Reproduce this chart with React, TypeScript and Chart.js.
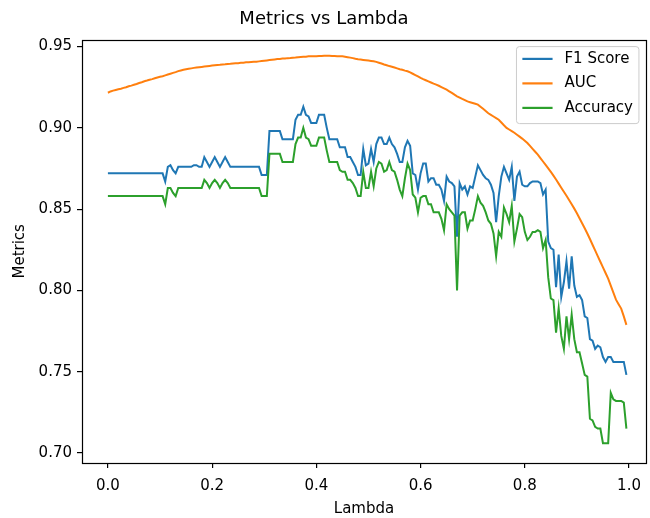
import React, { useEffect, useRef } from "react";
import { Chart, registerables } from "chart.js";

Chart.register(...registerables);

// lambda grid: 0.000, 0.005, ..., 0.995
const lambdas: number[] = Array.from({ length: 200 }, (_, i) => (i * 5) / 1000);

const f1Score: number[] = [
  0.872, 0.872, 0.872, 0.872, 0.872, 0.872, 0.872, 0.872, 0.872, 0.872,
  0.872, 0.872, 0.872, 0.872, 0.872, 0.872, 0.872, 0.872, 0.872, 0.872,
  0.872, 0.872, 0.867, 0.876, 0.877, 0.874, 0.872, 0.876, 0.876, 0.876,
  0.876, 0.876, 0.876, 0.877, 0.877, 0.876, 0.876, 0.882, 0.879, 0.876,
  0.879, 0.882, 0.879, 0.876, 0.879, 0.882, 0.879, 0.876, 0.876, 0.876,
  0.876, 0.876, 0.876, 0.876, 0.876, 0.876, 0.876, 0.876, 0.876, 0.871,
  0.871, 0.871, 0.898, 0.898, 0.898, 0.898, 0.898, 0.893, 0.893, 0.893,
  0.893, 0.893, 0.905, 0.908, 0.908, 0.913, 0.908, 0.907, 0.903, 0.903,
  0.903, 0.908, 0.908, 0.908, 0.900, 0.893, 0.893, 0.893, 0.893, 0.888,
  0.888, 0.888, 0.882, 0.882, 0.879, 0.876, 0.871, 0.871, 0.887, 0.877,
  0.878, 0.887, 0.879, 0.890, 0.894, 0.894, 0.890, 0.890, 0.894, 0.890,
  0.888, 0.884, 0.879, 0.879, 0.888, 0.892, 0.889, 0.872, 0.871, 0.862,
  0.872, 0.878, 0.878, 0.867, 0.869, 0.869, 0.865, 0.865, 0.862, 0.855,
  0.870, 0.867, 0.866, 0.864, 0.833, 0.866, 0.862, 0.864, 0.859, 0.864,
  0.863, 0.870, 0.877, 0.874, 0.871, 0.869, 0.868, 0.865, 0.860, 0.842,
  0.858, 0.870, 0.876, 0.872, 0.868, 0.876, 0.855, 0.870, 0.873, 0.865,
  0.864, 0.864, 0.866, 0.867, 0.867, 0.867, 0.866, 0.859, 0.862, 0.830,
  0.826, 0.825, 0.802, 0.822, 0.796, 0.805, 0.818, 0.801, 0.821, 0.803,
  0.796, 0.797, 0.794, 0.784, 0.783, 0.770, 0.769, 0.764, 0.766, 0.765,
  0.759, 0.756, 0.759, 0.759, 0.756, 0.756, 0.756, 0.756, 0.756, 0.748,
];

const auc: number[] = [
  0.9216, 0.9224, 0.9229, 0.9233, 0.9237, 0.9241, 0.9246, 0.925, 0.9256, 0.926,
  0.9265, 0.927, 0.9276, 0.9281, 0.9287, 0.9291, 0.9296, 0.93, 0.9305, 0.931,
  0.9314, 0.9318, 0.9323, 0.9328, 0.9333, 0.9338, 0.9343, 0.9349, 0.9353, 0.9357,
  0.936, 0.9363, 0.9366, 0.9369, 0.9371, 0.9373, 0.9375, 0.9377, 0.9379, 0.9381,
  0.9383, 0.9385, 0.9387, 0.9388, 0.939, 0.9391, 0.9393, 0.9394, 0.9396, 0.9397,
  0.9398, 0.94, 0.9401, 0.9403, 0.9404, 0.9405, 0.9406, 0.9407, 0.9409, 0.9411,
  0.9413, 0.9415, 0.9417, 0.9419, 0.9421, 0.9423, 0.9424, 0.9426, 0.9427, 0.9429,
  0.943, 0.9432, 0.9433, 0.9435, 0.9436, 0.9437, 0.9438, 0.944, 0.944, 0.9441,
  0.9441, 0.9442, 0.9442, 0.9443, 0.9443, 0.9443, 0.9442, 0.9442, 0.9441, 0.9441,
  0.944, 0.9438, 0.9435, 0.9432, 0.9429, 0.9425, 0.9422, 0.942, 0.9418, 0.9416,
  0.9414, 0.9412, 0.941, 0.9406, 0.9401, 0.9396, 0.939, 0.9385, 0.938, 0.9376,
  0.9371, 0.9366, 0.9361, 0.9357, 0.9352, 0.9348, 0.9341, 0.9333, 0.9325, 0.9317,
  0.9308, 0.93, 0.9293, 0.9286, 0.9279, 0.9272, 0.9266, 0.9259, 0.9251, 0.9243,
  0.9235, 0.9225, 0.9215, 0.9204, 0.9194, 0.9186, 0.9178, 0.9171, 0.9163, 0.9158,
  0.9153, 0.9148, 0.9143, 0.913, 0.9117, 0.9104, 0.909, 0.908, 0.907, 0.906,
  0.905, 0.9033, 0.9016, 0.9, 0.899, 0.898, 0.897, 0.8958, 0.8946, 0.8934,
  0.8921, 0.8907, 0.8889, 0.8871, 0.8853, 0.8835, 0.8814, 0.8793, 0.8772, 0.8751,
  0.8729, 0.8706, 0.8682, 0.8657, 0.8632, 0.8607, 0.8582, 0.8556, 0.853, 0.8503,
  0.8475, 0.8444, 0.8413, 0.8382, 0.835, 0.8316, 0.8281, 0.8246, 0.8211, 0.8176,
  0.8142, 0.8107, 0.8072, 0.8029, 0.7986, 0.7943, 0.7915, 0.7888, 0.784, 0.7788,
];

const accuracy: number[] = [
  0.858, 0.858, 0.858, 0.858, 0.858, 0.858, 0.858, 0.858, 0.858, 0.858,
  0.858, 0.858, 0.858, 0.858, 0.858, 0.858, 0.858, 0.858, 0.858, 0.858,
  0.858, 0.858, 0.853, 0.863, 0.863, 0.860, 0.858, 0.863, 0.863, 0.863,
  0.863, 0.863, 0.863, 0.863, 0.863, 0.863, 0.863, 0.868, 0.866, 0.863,
  0.866, 0.868, 0.866, 0.863, 0.866, 0.868, 0.866, 0.863, 0.863, 0.863,
  0.863, 0.863, 0.863, 0.863, 0.863, 0.863, 0.863, 0.863, 0.863, 0.858,
  0.858, 0.858, 0.884, 0.884, 0.884, 0.884, 0.884, 0.879, 0.879, 0.879,
  0.879, 0.879, 0.890, 0.894, 0.894, 0.900, 0.894, 0.893, 0.889, 0.889,
  0.889, 0.894, 0.894, 0.894, 0.886, 0.879, 0.879, 0.879, 0.879, 0.874,
  0.873, 0.873, 0.868, 0.868, 0.866, 0.863, 0.858, 0.858, 0.873, 0.863,
  0.863, 0.873, 0.864, 0.875, 0.879, 0.878, 0.873, 0.874, 0.879, 0.874,
  0.873, 0.868, 0.862, 0.858, 0.869, 0.878, 0.874, 0.859, 0.857, 0.848,
  0.857, 0.858, 0.858, 0.853, 0.853, 0.848, 0.848, 0.848, 0.844, 0.837,
  0.853, 0.850, 0.848, 0.846, 0.800, 0.846, 0.848, 0.848, 0.838, 0.843,
  0.843, 0.850, 0.858, 0.854, 0.852, 0.848, 0.843, 0.841, 0.835, 0.821,
  0.836, 0.833, 0.851, 0.847, 0.842, 0.852, 0.830, 0.838, 0.847, 0.845,
  0.836, 0.831, 0.833, 0.836, 0.836, 0.837, 0.836, 0.826, 0.831, 0.808,
  0.795, 0.794, 0.774, 0.789, 0.772, 0.764, 0.784, 0.770, 0.785, 0.770,
  0.762, 0.762, 0.755, 0.748, 0.747, 0.721, 0.720, 0.716, 0.715, 0.715,
  0.706, 0.706, 0.706, 0.737, 0.733, 0.732, 0.732, 0.732, 0.731, 0.715,
];

const xTicks: number[] = [0.0, 0.2, 0.4, 0.6, 0.8, 1.0];
const yTicks: number[] = [0.7, 0.75, 0.8, 0.85, 0.9, 0.95];
const seriesNames: string[] = ["F1 Score", "AUC", "Accuracy"];
const seriesColors: string[] = ["#1f77b4", "#ff7f0e", "#2ca02c"];

const FONT = "'DejaVu Sans', 'Liberation Sans', sans-serif";

const framePlugin = {
  id: "mplFrame",
  afterDatasetsDraw(chart: any) {
    const { ctx, chartArea } = chart;
    ctx.save();
    ctx.strokeStyle = "#000";
    ctx.lineWidth = 1.2;
    ctx.strokeRect(
      Math.round(chartArea.left) + 0.5,
      Math.round(chartArea.top) + 0.5,
      Math.round(chartArea.right - chartArea.left),
      Math.round(chartArea.bottom - chartArea.top)
    );
    ctx.restore();
  },
};

const legendPlugin = {
  id: "mplLegend",
  afterDraw(chart: any) {
    const { ctx, chartArea } = chart;
    ctx.save();
    ctx.font = `15px ${FONT}`;
    const names: string[] = chart.data.datasets.map((d: any) => d.label);
    const colors: string[] = chart.data.datasets.map((d: any) => d.borderColor);
    const textW = Math.max(...names.map((n) => ctx.measureText(n).width));
    const pad = 6;
    const handle = 30;
    const textPad = 12;
    const width = pad + handle + textPad + textW + pad;
    const height = 77;
    const right = chartArea.right - 7;
    const top = chartArea.top + 7;
    const left = right - width;
    const r = 3;
    ctx.beginPath();
    ctx.moveTo(left + r, top);
    ctx.lineTo(right - r, top);
    ctx.arcTo(right, top, right, top + r, r);
    ctx.lineTo(right, top + height - r);
    ctx.arcTo(right, top + height, right - r, top + height, r);
    ctx.lineTo(left + r, top + height);
    ctx.arcTo(left, top + height, left, top + height - r, r);
    ctx.lineTo(left, top + r);
    ctx.arcTo(left, top, left + r, top, r);
    ctx.closePath();
    ctx.fillStyle = "rgba(255,255,255,0.8)";
    ctx.fill();
    ctx.strokeStyle = "#cccccc";
    ctx.lineWidth = 1;
    ctx.stroke();
    names.forEach((name, i) => {
      const y = top + 12.3 + i * 24.5;
      ctx.beginPath();
      ctx.strokeStyle = colors[i];
      ctx.lineWidth = 2.2;
      ctx.lineCap = "square";
      ctx.moveTo(left + pad + 1, y);
      ctx.lineTo(left + pad + handle - 1, y);
      ctx.stroke();
      ctx.fillStyle = "#000";
      ctx.textBaseline = "middle";
      ctx.textAlign = "left";
      ctx.fillText(name, left + pad + handle + textPad, y);
    });
    ctx.restore();
  },
};

export default function App() {
  const canvasRef = useRef<HTMLCanvasElement | null>(null);

  useEffect(() => {
    if (!canvasRef.current) return;
    const series = [f1Score, auc, accuracy];
    const chart = new Chart(canvasRef.current, {
      type: "line",
      data: {
        datasets: series.map((vals, k) => ({
          label: seriesNames[k],
          data: lambdas.map((x, i) => ({ x, y: vals[i] })),
          borderColor: seriesColors[k],
          backgroundColor: seriesColors[k],
          borderWidth: 2,
          pointRadius: 0,
          pointHoverRadius: 0,
          tension: 0,
          fill: false,
          order: 2 - k,
        })),
      },
      options: {
        animation: false,
        responsive: false,
        devicePixelRatio: 1,
        layout: { padding: { left: 0, right: 2, top: 0, bottom: 0 } },
        plugins: {
          legend: { display: false },
          tooltip: { enabled: false },
          title: {
            display: true,
            text: "Metrics vs Lambda",
            color: "#000",
            font: { family: FONT, size: 18, weight: "normal" },
            padding: { top: 9, bottom: 9 },
          },
        },
        scales: {
          x: {
            type: "linear",
            min: -0.0497,
            max: 1.0325,
            afterBuildTicks: (s: any) => {
              s.ticks = xTicks.map((v) => ({ value: v }));
            },
            afterFit: (s: any) => {
              s.height = 55;
            },
            ticks: {
              callback: (v: any) => Number(v).toFixed(1),
              color: "#000",
              font: { family: FONT, size: 15 },
              padding: 9,
              maxRotation: 0,
              autoSkip: false,
            },
            grid: {
              display: true,
              drawOnChartArea: false,
              drawTicks: true,
              tickLength: 5,
              color: "#000",
              lineWidth: 1.2,
            },
            border: { display: false },
            title: {
              display: true,
              text: "Lambda",
              color: "#000",
              font: { family: FONT, size: 15 },
              padding: { top: 0, bottom: 0 },
            },
          },
          y: {
            type: "linear",
            min: 0.6938,
            max: 0.9543,
            afterBuildTicks: (s: any) => {
              s.ticks = yTicks.map((v) => ({ value: v }));
            },
            afterFit: (s: any) => {
              s.width = 82;
            },
            ticks: {
              callback: (v: any) => Number(v).toFixed(2),
              color: "#000",
              font: { family: FONT, size: 15 },
              padding: 5,
              autoSkip: false,
            },
            grid: {
              display: true,
              drawOnChartArea: false,
              drawTicks: true,
              tickLength: 5,
              color: "#000",
              lineWidth: 1.2,
            },
            border: { display: false },
            title: {
              display: true,
              text: "Metrics",
              color: "#000",
              font: { family: FONT, size: 15 },
              padding: { top: 11, bottom: 0 },
            },
          },
        },
      },
      plugins: [framePlugin, legendPlugin],
    });
    return () => chart.destroy();
  }, []);

  return (
    <div style={{ position: "fixed", left: 0, top: 0, width: 650, height: 518, background: "#fff" }}>
      <canvas ref={canvasRef} width={650} height={518} style={{ display: "block" }} />
    </div>
  );
}
